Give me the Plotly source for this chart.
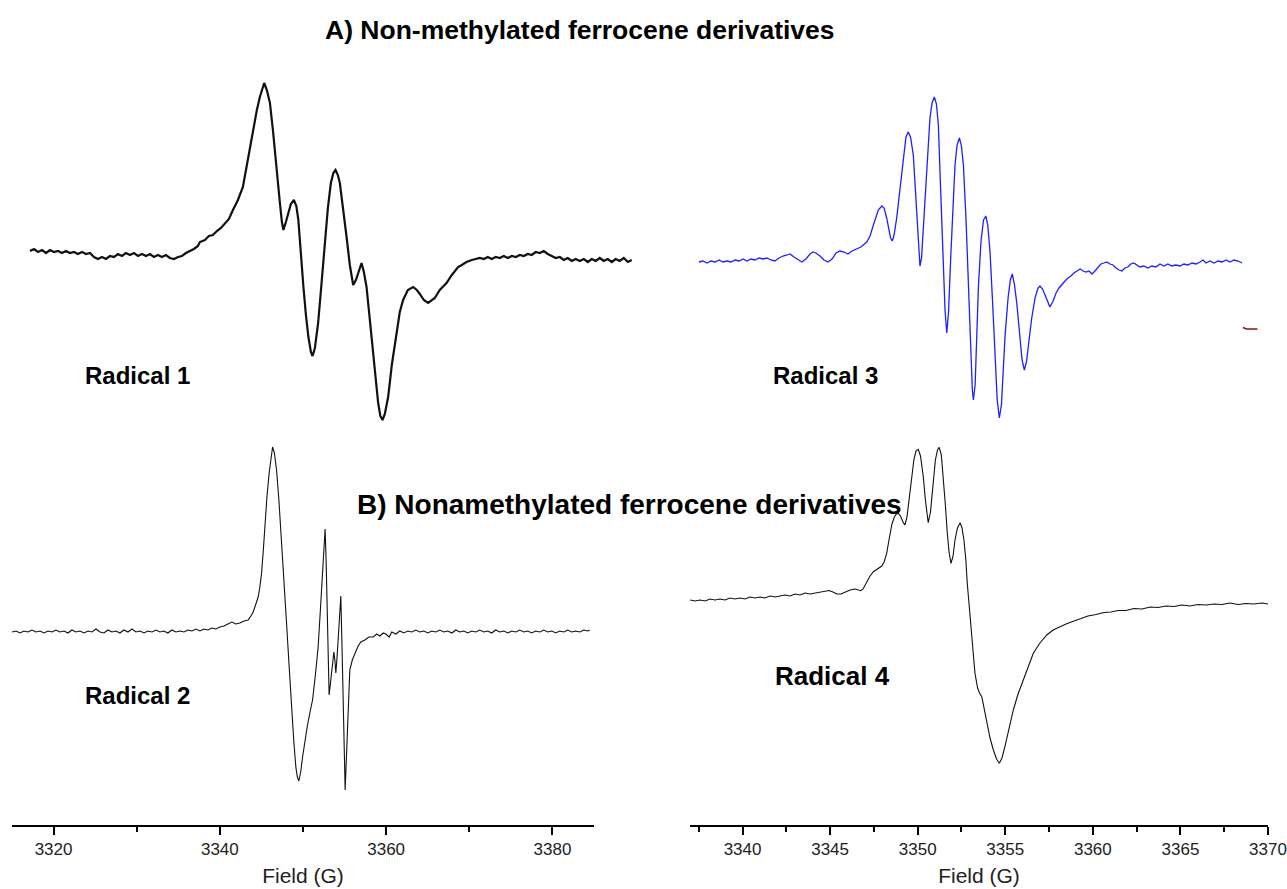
import plotly.graph_objects as go

W, H = 1287, 889

# ---------------- data (field in G, signal in arbitrary units) ----------------
r1_field = [3317.16, 3317.65, 3318.13, 3318.61, 3319.09, 3319.57, 3320.05, 3320.53, 3321.01, 3321.49,
            3321.97, 3322.45, 3322.93, 3323.42, 3323.90, 3324.38, 3324.86, 3325.34, 3325.82, 3326.30,
            3326.78, 3327.26, 3327.74, 3328.22, 3328.70, 3329.19, 3329.67, 3330.15, 3330.63, 3331.11,
            3331.59, 3332.07, 3332.55, 3333.03, 3333.51, 3333.99, 3334.48, 3334.96, 3335.44, 3335.92,
            3336.40, 3336.88, 3337.36, 3337.60, 3338.20, 3338.68, 3339.16, 3339.64, 3340.13, 3340.61,
            3341.09, 3341.57, 3342.17, 3342.77, 3343.37, 3343.97, 3344.45, 3344.81, 3345.33, 3345.65,
            3346.02, 3346.38, 3346.62, 3346.98, 3347.22, 3347.46, 3347.64, 3347.94, 3348.24, 3348.54,
            3348.90, 3349.20, 3349.44, 3349.74, 3350.05, 3350.35, 3350.65, 3350.95, 3351.15, 3351.43,
            3351.82, 3352.21, 3352.63, 3352.99, 3353.35, 3353.65, 3353.91, 3354.19, 3354.43, 3354.83,
            3355.24, 3355.63, 3356.03, 3356.36, 3356.63, 3357.04, 3357.32, 3357.64, 3358.04, 3358.43,
            3358.76, 3359.04, 3359.30, 3359.56, 3359.84, 3360.24, 3360.68, 3361.25, 3361.64, 3362.04,
            3362.61, 3363.24, 3363.69, 3364.05, 3364.53, 3365.05, 3365.37, 3365.85, 3366.45, 3367.26,
            3367.90, 3368.65, 3369.10, 3369.66, 3370.30, 3370.78, 3371.26, 3371.74, 3372.22, 3372.70,
            3373.18, 3373.66, 3374.15, 3374.63, 3375.11, 3375.59, 3376.07, 3376.55, 3377.03, 3377.51,
            3377.99, 3378.47, 3378.96, 3379.44, 3379.92, 3380.40, 3380.88, 3381.36, 3381.84, 3382.32,
            3382.80, 3383.28, 3383.77, 3384.25, 3384.73, 3385.21, 3385.69, 3386.17, 3386.65, 3387.13,
            3387.61, 3388.09, 3388.58, 3389.06, 3389.54]
r1_signal = [1, 3, 0, 2, -1, 2, 0, 1, -1, 1,
             -1, 0, -2, 0, -2, -1, -5, -7, -5, -7,
             -4, -5, -2, -4, -1, -3, -1, -4, -2, -4,
             -2, -5, -3, -5, -3, -6, -7, -5, -4, -1,
             1, 3, 6, 10, 12, 16, 17, 21, 24, 28,
             33, 42, 52, 65, 92, 122, 142, 155, 169, 162,
             149, 122, 99, 72, 49, 30, 22, 30, 40, 48,
             52, 46, 32, -3, -35, -63, -85, -100, -104, -96,
             -71, -33, 9, 44, 69, 79, 82, 77, 69, 44,
             15, -13, -33, -28, -21, -11, -20, -35, -68, -101,
             -128, -151, -164, -168, -162, -145, -113, -81, -60, -48,
             -38, -35, -38, -42, -48, -51, -49, -46, -38, -31,
             -23, -15, -13, -10, -8, -7, -6, -7, -5, -7,
             -5, -6, -4, -6, -4, -5, -3, -4, -2, -3,
             0, -1, 1, -2, -4, -6, -5, -8, -6, -9,
             -7, -9, -7, -10, -7, -9, -6, -9, -7, -10,
             -7, -9, -6, -10, -8]

r3_field = [3337.51, 3337.74, 3337.97, 3338.20, 3338.43, 3338.66, 3338.88, 3339.11, 3339.34, 3339.57,
            3339.80, 3340.03, 3340.25, 3340.48, 3340.71, 3340.94, 3341.17, 3341.40, 3341.62, 3341.85,
            3342.08, 3342.31, 3342.54, 3342.71, 3342.94, 3343.17, 3343.39, 3343.62, 3343.85, 3344.02,
            3344.19, 3344.42, 3344.65, 3344.88, 3345.11, 3345.34, 3345.56, 3345.79, 3346.02, 3346.25,
            3346.48, 3346.76, 3347.09, 3347.28, 3347.47, 3347.62, 3347.75, 3347.95, 3348.08, 3348.23,
            3348.36, 3348.45, 3348.55, 3348.65, 3348.80, 3348.94, 3349.09, 3349.22, 3349.33, 3349.46,
            3349.59, 3349.75, 3349.85, 3349.94, 3350.05, 3350.13, 3350.22, 3350.30, 3350.42, 3350.56,
            3350.70, 3350.82, 3350.95, 3351.07, 3351.18, 3351.27, 3351.37, 3351.47, 3351.56, 3351.66,
            3351.76, 3351.90, 3352.02, 3352.13, 3352.25, 3352.38, 3352.49, 3352.61, 3352.76, 3352.89,
            3353.04, 3353.12, 3353.18, 3353.28, 3353.47, 3353.62, 3353.76, 3353.89, 3354.00, 3354.13,
            3354.27, 3354.41, 3354.54, 3354.66, 3354.78, 3354.87, 3354.99, 3355.16, 3355.29, 3355.40,
            3355.52, 3355.65, 3355.81, 3355.96, 3356.09, 3356.21, 3356.36, 3356.51, 3356.70, 3356.87,
            3356.98, 3357.13, 3357.27, 3357.44, 3357.55, 3357.73, 3357.90, 3358.07, 3358.24, 3358.41,
            3358.58, 3358.75, 3358.92, 3359.10, 3359.27, 3359.44, 3359.61, 3359.78, 3359.95, 3360.12,
            3360.29, 3360.46, 3360.63, 3360.80, 3360.98, 3361.15, 3361.32, 3361.49, 3361.66, 3361.83,
            3362.00, 3362.17, 3362.34, 3362.52, 3362.69, 3362.91, 3363.14, 3363.37, 3363.60, 3363.83,
            3364.06, 3364.28, 3364.51, 3364.74, 3364.98, 3365.20, 3365.43, 3365.66, 3365.89, 3366.12,
            3366.29, 3366.46, 3366.69, 3366.92, 3367.15, 3367.38, 3367.61, 3367.83, 3368.06, 3368.29,
            3368.52]
r3_signal = [0, 1, -1, 1, 0, 2, 0, 1, 0, 2,
             1, 3, 1, 3, 2, 4, 3, 4, 2, 1,
             4, 6, 7, 8, 5, 2, 0, 3, 8, 10,
             9, 6, 2, 0, 3, 9, 11, 10, 8, 11,
             13, 15, 20, 26, 37, 46, 52, 56, 54, 44,
             32, 24, 21, 27, 44, 66, 90, 112, 125, 130,
             125, 107, 77, 44, 12, -4, 4, 27, 60, 102,
             144, 159, 165, 158, 137, 92, 44, -8, -48, -71,
             -50, 10, 57, 97, 117, 124, 117, 97, 42, -23,
             -88, -128, -138, -123, -23, 22, 42, 46, 37, 10,
             -38, -90, -138, -156, -143, -113, -73, -36, -18, -12,
             -22, -40, -68, -98, -108, -100, -78, -56, -36, -26,
             -24, -27, -33, -41, -45, -39, -31, -26, -22, -19,
             -16, -14, -11, -9, -7, -9, -10, -9, -12, -9,
             -5, -2, -1, 0, -2, -3, -6, -8, -9, -6,
             -5, -2, -1, -3, -5, -4, -6, -4, -5, -2,
             -4, -2, -4, -3, -4, -2, -3, -1, -2, 0,
             2, -1, 1, -1, 1, 0, 2, 0, 2, 1,
             -1]
r3_marker_field = [3368.57, 3368.77, 3369.40]
r3_marker_signal = [-65.5, -67, -67]

r2_field = [3315.00, 3315.48, 3315.96, 3316.44, 3316.92, 3317.40, 3317.88, 3318.37, 3318.85, 3319.33,
            3319.81, 3320.29, 3320.77, 3321.25, 3321.73, 3322.21, 3322.69, 3323.17, 3323.66, 3324.14,
            3324.62, 3325.10, 3325.58, 3326.06, 3326.54, 3327.02, 3327.50, 3327.98, 3328.46, 3328.95,
            3329.43, 3329.91, 3330.39, 3330.87, 3331.35, 3331.83, 3332.31, 3332.79, 3333.27, 3333.75,
            3334.23, 3334.72, 3335.20, 3335.68, 3336.16, 3336.64, 3337.12, 3337.60, 3338.08, 3338.56,
            3339.04, 3339.52, 3340.00, 3340.49, 3340.97, 3341.45, 3341.93, 3342.41, 3342.89, 3343.41,
            3343.73, 3344.01, 3344.33, 3344.61, 3344.81, 3345.02, 3345.23, 3345.41, 3345.66, 3345.93,
            3346.14, 3346.34, 3346.56, 3346.82, 3347.10, 3347.42, 3347.70, 3348.02, 3348.30, 3348.62,
            3348.90, 3349.14, 3349.32, 3349.50, 3349.72, 3349.95, 3350.22, 3350.50, 3350.82, 3351.15,
            3351.49, 3351.82, 3352.09, 3352.35, 3352.51, 3352.66, 3352.78, 3352.90, 3353.02, 3353.14,
            3353.32, 3353.50, 3353.71, 3353.83, 3353.95, 3354.09, 3354.23, 3354.40, 3354.55, 3354.70,
            3354.83, 3354.95, 3355.07, 3355.21, 3355.36, 3355.51, 3355.63, 3355.93, 3356.24, 3356.63,
            3356.96, 3357.44, 3357.92, 3358.43, 3358.88, 3359.24, 3359.64, 3359.96, 3360.36, 3360.68,
            3361.16, 3361.64, 3362.12, 3362.61, 3363.09, 3363.57, 3364.05, 3364.53, 3365.01, 3365.49,
            3365.97, 3366.45, 3366.93, 3367.41, 3367.90, 3368.38, 3368.86, 3369.34, 3369.82, 3370.30,
            3370.78, 3371.26, 3371.74, 3372.22, 3372.70, 3373.18, 3373.66, 3374.15, 3374.63, 3375.11,
            3375.59, 3376.07, 3376.55, 3377.03, 3377.51, 3377.99, 3378.47, 3378.96, 3379.44, 3379.92,
            3380.40, 3380.88, 3381.36, 3381.84, 3382.32, 3382.80, 3383.28, 3383.77, 3384.25, 3384.49]
r2_signal = [0, 1, -1, 1, 0, 2, 0, 1, -1, 1,
             0, 2, 0, 1, -1, 2, 0, 1, -1, 1,
             0, 3, 0, -1, 2, 0, 1, -1, 2, 0,
             3, 0, 1, -1, 1, 0, 2, 0, 1, -1,
             2, 0, 1, 0, 2, 1, 3, 1, 3, 2,
             4, 3, 5, 6, 8, 10, 8, 9, 11, 12,
             16, 20, 28, 35, 45, 59, 82, 109, 135, 159,
             176, 185, 179, 162, 132, 92, 50, 9, -30, -75,
             -110, -135, -145, -149, -140, -125, -108, -95, -81, -68,
             -43, -15, 22, 59, 82, 103, 72, 25, -23, -63,
             -50, -35, -20, -28, -41, -26, -8, 14, 36, -18,
             -75, -123, -158, -128, -91, -58, -38, -28, -21, -14,
             -10, -8, -5, -5, -2, -4, -1, -2, -5, 0,
             -2, 1, -1, 1, 0, 2, 0, 1, -1, 1,
             0, 2, 0, 1, -1, 2, 0, 1, -1, 1,
             0, 2, 0, 1, -1, 2, 0, 1, -1, 1,
             0, 2, 0, 1, -1, 1, 0, 2, 0, 1,
             -1, 1, 0, 2, 0, 1, 0, 2, 1, 2]

r4_field = [3337.00, 3337.29, 3337.57, 3337.86, 3338.14, 3338.43, 3338.71, 3339.00, 3339.28, 3339.57,
            3339.85, 3340.14, 3340.43, 3340.71, 3341.00, 3341.28, 3341.57, 3341.85, 3342.14, 3342.42,
            3342.71, 3342.99, 3343.28, 3343.57, 3343.85, 3344.14, 3344.42, 3344.71, 3344.94, 3345.16,
            3345.39, 3345.62, 3345.85, 3346.14, 3346.42, 3346.75, 3346.88, 3347.09, 3347.28, 3347.47,
            3347.68, 3347.95, 3348.08, 3348.23, 3348.33, 3348.42, 3348.53, 3348.66, 3348.78, 3348.89,
            3349.02, 3349.16, 3349.27, 3349.39, 3349.56, 3349.67, 3349.78, 3349.90, 3350.03, 3350.16,
            3350.32, 3350.44, 3350.60, 3350.73, 3350.89, 3351.01, 3351.13, 3351.23, 3351.35, 3351.46,
            3351.58, 3351.69, 3351.79, 3351.90, 3352.02, 3352.13, 3352.27, 3352.42, 3352.53, 3352.64,
            3352.75, 3352.83, 3352.93, 3353.03, 3353.15, 3353.27, 3353.42, 3353.53, 3353.66, 3353.79,
            3353.94, 3354.13, 3354.32, 3354.50, 3354.66, 3354.81, 3354.98, 3355.21, 3355.46, 3355.73,
            3356.03, 3356.30, 3356.60, 3356.98, 3357.37, 3357.73, 3358.12, 3358.47, 3358.81, 3359.27,
            3359.72, 3360.18, 3360.64, 3361.04, 3361.44, 3361.89, 3362.35, 3362.81, 3363.27, 3363.72,
            3364.18, 3364.63, 3365.09, 3365.55, 3366.00, 3366.46, 3366.92, 3367.37, 3367.83, 3368.29,
            3368.74, 3369.20, 3369.66, 3370.00]
r4_signal = [0, -1, 0, -1, 1, 0, 1, 0, 2, 1,
             2, 1, 3, 2, 3, 2, 4, 3, 4, 5,
             4, 6, 5, 7, 6, 7, 8, 9, 9.5, 8,
             6, 6, 8, 10, 11, 9.3, 11, 18.3, 24, 28.3,
             31, 34, 38, 46.7, 57, 66.7, 76, 82.7, 86, 86.7,
             84, 78, 75, 83, 110, 126, 140, 149, 150.7, 144,
             123.3, 100, 77.3, 88, 120, 140, 150, 152.7, 145, 123.3,
             95, 66.7, 48, 36.7, 44, 60, 72, 77.3, 72, 60,
             40, 16.7, -5, -26.7, -50, -73.3, -88, -93, -96.7, -108,
             -123.3, -138, -150, -159, -163.3, -158, -146.7, -128, -110, -94,
             -80, -66, -53.3, -43, -35, -30, -26.7, -24, -21.7, -18.5,
             -16, -14.5, -12.5, -12, -10.5, -10.5, -8.5, -9, -7, -7.5,
             -6, -6.5, -5, -6, -4.5, -5, -4, -4.5, -3, -4.5,
             -3.5, -4, -3, -4]

# tick labels
left_major_ticks = [3320, 3340, 3360, 3380]
left_minor_ticks = [3330, 3350, 3370]
right_major_ticks = [3340, 3345, 3350, 3355, 3360, 3365, 3370]
right_minor_ticks = [3337.5, 3342.5, 3347.5, 3352.5, 3357.5, 3362.5, 3367.5]

# ---------------- layout helpers ----------------
def px(x):
    return x / W


def py(y):
    return 1 - y / H


fig = go.Figure()

fig.add_trace(go.Scatter(x=r1_field, y=r1_signal, mode="lines", xaxis="x", yaxis="y",
                         line=dict(color="#111111", width=2.2), showlegend=False, hoverinfo="skip"))
fig.add_trace(go.Scatter(x=r3_field, y=r3_signal, mode="lines", xaxis="x2", yaxis="y2",
                         line=dict(color="#1f1fff", width=1.3), showlegend=False, hoverinfo="skip"))
fig.add_trace(go.Scatter(x=r3_marker_field, y=r3_marker_signal, mode="lines", xaxis="x2", yaxis="y2",
                         line=dict(color="#8b1010", width=1.6), showlegend=False, hoverinfo="skip"))
fig.add_trace(go.Scatter(x=r2_field, y=r2_signal, mode="lines", xaxis="x3", yaxis="y3",
                         line=dict(color="#111111", width=1.1), showlegend=False, hoverinfo="skip"))
fig.add_trace(go.Scatter(x=r4_field, y=r4_signal, mode="lines", xaxis="x4", yaxis="y4",
                         line=dict(color="#111111", width=1.1), showlegend=False, hoverinfo="skip"))

top_dom = [py(440), py(60)]
bot_dom = [py(825), py(440)]

hidden = dict(visible=False, showgrid=False, zeroline=False, fixedrange=True, automargin=False)
tickfont = dict(family="Liberation Sans, Arial, sans-serif", size=17, color="#222222")
titlefont = dict(family="Liberation Sans, Arial, sans-serif", size=21, color="#222222")

fig.update_layout(
    width=W, height=H,
    margin=dict(l=0, r=0, t=0, b=0, autoexpand=False),
    paper_bgcolor="white", plot_bgcolor="rgba(0,0,0,0)",
    xaxis=dict(domain=[px(12), px(640)], range=[3315, 3390.53], anchor="y", **hidden),
    yaxis=dict(domain=top_dom, range=[-188, 192], anchor="x", **hidden),
    xaxis2=dict(domain=[px(690), px(1287)], range=[3337, 3371.085], anchor="y2", **hidden),
    yaxis2=dict(domain=top_dom, range=[-178, 202], anchor="x2", **hidden),
    xaxis3=dict(domain=[px(12), px(594)], range=[3315, 3385], anchor="y3", automargin=False,
                showgrid=False, zeroline=False, showline=True, linecolor="black", linewidth=1.5,
                ticks="outside", ticklen=8, tickwidth=1.5, tickcolor="black",
                tickvals=left_major_ticks, ticktext=[str(v) for v in left_major_ticks],
                tickfont=tickfont,
                minor=dict(tickvals=left_minor_ticks, ticks="outside", ticklen=5, tickwidth=1.5,
                           tickcolor="black", showgrid=False),
                title=dict(text="Field (G)", font=titlefont, standoff=10)),
    yaxis3=dict(domain=bot_dom, range=[-193, 192], anchor="x3", **hidden),
    xaxis4=dict(domain=[px(690), px(1268)], range=[3337, 3370], anchor="y4", automargin=False,
                showgrid=False, zeroline=False, showline=True, linecolor="black", linewidth=1.5,
                ticks="outside", ticklen=8, tickwidth=1.5, tickcolor="black",
                tickvals=right_major_ticks, ticktext=[str(v) for v in right_major_ticks],
                tickfont=tickfont,
                minor=dict(tickvals=right_minor_ticks, ticks="outside", ticklen=5, tickwidth=1.5,
                           tickcolor="black", showgrid=False),
                title=dict(text="Field (G)", font=titlefont, standoff=10)),
    yaxis4=dict(domain=bot_dom, range=[-225, 160], anchor="x4", **hidden),
)

bold = "Liberation Sans, Arial, sans-serif"
labels = [
    ("<b>A) Non-methylated ferrocene derivatives</b>", 580, 30, 26.5),
    ("<b>B) Nonamethylated ferrocene derivatives</b>", 629, 505, 28),
    ("<b>Radical 1</b>", 137, 375, 24),
    ("<b>Radical 3</b>", 825, 375, 24),
    ("<b>Radical 2</b>", 137, 695, 24),
    ("<b>Radical 4</b>", 832, 676, 26),
]
for text, x, y, size in labels:
    fig.add_annotation(text=text, x=px(x), y=py(y), xref="paper", yref="paper",
                       xanchor="center", yanchor="middle", showarrow=False,
                       font=dict(family=bold, size=size, color="black"))

fig.write_html("out.html", config={"displayModeBar": False},
               post_script="document.body.style.margin='0px';document.body.style.overflow='hidden';")
